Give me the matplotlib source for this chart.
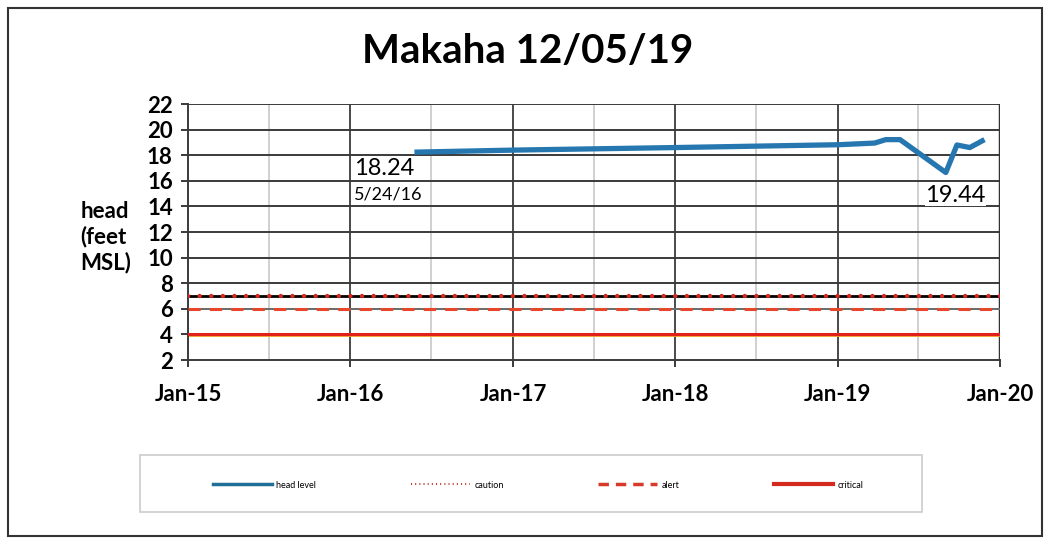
import datetime as dt
import matplotlib
matplotlib.use("Agg")
import matplotlib.pyplot as plt
from matplotlib.lines import Line2D
from matplotlib.patches import Rectangle

# head level readings
head_dates = ["2016-05-24", "2017-01-01", "2018-01-01", "2019-01-01", "2019-03-25",
              "2019-04-19", "2019-05-21", "2019-09-01", "2019-09-26", "2019-10-25", "2019-11-27"]
head_vals = [18.24, 18.4, 18.6, 18.82, 18.95, 19.22, 19.22, 16.65, 18.8, 18.6, 19.22]

caution = 7.0
alert = 6.0
critical = 4.0

xticks = ["2015-01-01", "2016-01-01", "2017-01-01", "2018-01-01", "2019-01-01", "2020-01-01"]
xlabels = ["Jan-15", "Jan-16", "Jan-17", "Jan-18", "Jan-19", "Jan-20"]
minor_ticks = ["2015-07-01", "2016-07-01", "2017-07-01", "2018-07-01", "2019-07-01"]
yticks = list(range(2, 23, 2))

d = lambda s: dt.datetime.strptime(s, "%Y-%m-%d")
hd = [d(s) for s in head_dates]
xt = [d(s) for s in xticks]
xm = [d(s) for s in minor_ticks]

plt.rcParams['font.family'] = ['Lato', 'DejaVu Sans']

fig = plt.figure(figsize=(10.45, 5.39), dpi=100)
ax = fig.add_axes([0.18, 0.332, 0.777, 0.475])

x0, x1 = xt[0], xt[-1]
ax.set_xlim(x0, x1)
ax.set_ylim(2, 22)

# grid
for x in xm:
    ax.axvline(x, color='#c8c8c8', lw=1.2, zorder=0)
for x in xt[1:-1]:
    ax.axvline(x, color='#4a4a4a', lw=1.4, zorder=0)
for y in yticks[1:]:
    ax.axhline(y, color='#3a3a3a', lw=1.4, zorder=0)

# thresholds
ax.plot([x0, x1], [caution, caution], color='black', lw=2.0, zorder=2)
ax.plot([x0, x1], [caution, caution], color='#d42a1e', lw=3.2, ls=(0, (0.01, 2.6)),
        dash_capstyle='round', zorder=3)
ax.plot([x0, x1], [alert, alert], color='#777777', lw=1.2, zorder=2)
ax.plot([x0, x1], [alert, alert], color='#e8462a', lw=2.2, ls=(0, (4, 3)), zorder=3)
ax.plot([x0, x1], [critical - 0.06, critical - 0.06], color='#f0a020', lw=2.0, zorder=2)
ax.plot([x0, x1], [critical + 0.03, critical + 0.03], color='#e0201b', lw=2.2, zorder=3)

ax.plot(hd, head_vals, color='#2677b0', lw=3.8, solid_capstyle='butt', zorder=4)

ax.text(hd[0] - dt.timedelta(days=135), 17.0, "18.24", fontsize=17,
        va='center', ha='left', zorder=5)
ax.text(hd[0] - dt.timedelta(days=135), 14.9, "5/24/16", fontsize=13,
        va='center', ha='left', zorder=5)
ax.text(d("2019-09-22"), 14.85, "19.44", fontsize=17,
        va='center', ha='center', zorder=5,
        bbox=dict(facecolor='white', edgecolor='none', pad=0.1))

ax.set_yticks(yticks)
ax.set_xticks(xt)
ax.set_xticklabels(xlabels)
ax.tick_params(axis='both', labelsize=16, length=5, width=1.4, color='#3a3a3a')
ax.tick_params(axis='x', pad=12)
ax.tick_params(axis='y', pad=6)
for lab in ax.get_xticklabels() + ax.get_yticklabels():
    lab.set_fontweight('bold')
for s in ['top', 'right']:
    ax.spines[s].set_visible(False)
for s in ['left', 'bottom']:
    ax.spines[s].set_color('#3a3a3a')
    ax.spines[s].set_linewidth(1.4)
ax.axvline(x1, color='#333333', lw=2.5, zorder=1)

fig.text(0.077, 0.56, "head\n(feet\nMSL)", fontsize=16, fontweight='bold', ha='left', va='center',
         linespacing=1.2)
fig.text(0.505, 0.905, "Makaha 12/05/19", fontsize=29, fontweight='bold', ha='center', va='center')

# legend
handles = [
    Line2D([], [], color='#1f6f9a', lw=2.5),
    Line2D([], [], color='#c03a30', lw=1.5, ls=(0, (0.5, 1.5))),
    Line2D([], [], color='#d63a2a', lw=2.5, ls=(0, (3, 2))),
    Line2D([], [], color='#d42a1e', lw=3.0),
]
fig.legend(handles, ["head level", "caution", "alert", "critical"], ncol=4,
           loc='center', bbox_to_anchor=(0.515, 0.1), fontsize=6.5, frameon=False,
           handlelength=6.5, columnspacing=10.5, handletextpad=0.5)
fig.patches.append(Rectangle((140 / 1045, 1 - 512 / 539), 782 / 1045, 57 / 539,
                             transform=fig.transFigure, fill=False, edgecolor='#cccccc', lw=1.2))
fig.patches.append(Rectangle((8 / 1045, 1 - 536 / 539), 1034 / 1045, 528 / 539,
                             transform=fig.transFigure, fill=False, edgecolor='#333333', lw=1.5))

fig.savefig("out.png", dpi=100, facecolor='white')
